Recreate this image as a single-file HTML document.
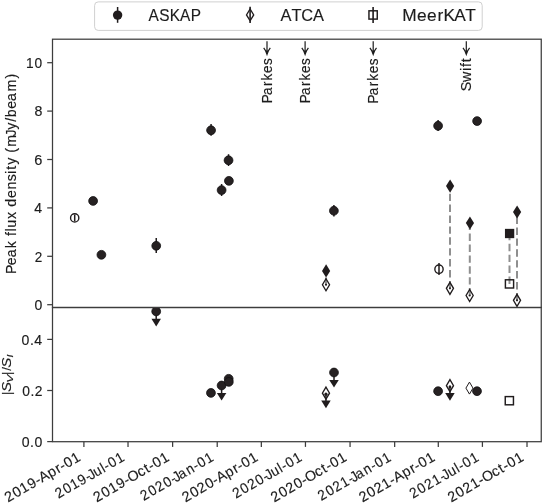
<!DOCTYPE html>
<html><head><meta charset="utf-8"><style>
html,body{margin:0;padding:0;background:#fff;}
svg{display:block;}
text{font-family:"Liberation Sans", sans-serif;fill:#1c1c1c;stroke:#1c1c1c;stroke-width:0.15px;}
svg{will-change:transform;}
</style></head><body>
<svg width="543" height="504" viewBox="0 0 543 504">
<defs><clipPath id="clipL"><rect x="52.5" y="307.5" width="488.75" height="134.2"/></clipPath></defs>
<rect width="543" height="504" fill="#fff"/>
<line x1="47.2" y1="304.7" x2="52.5" y2="304.7" stroke="#3d3d3d" stroke-width="1.25"/>
<text transform="translate(41.70,309.95) scale(0.9948,1)" x="-7.30" y="0" font-size="14.12">0</text>
<line x1="47.2" y1="256.3" x2="52.5" y2="256.3" stroke="#3d3d3d" stroke-width="1.25"/>
<text transform="translate(41.70,261.55) scale(0.9589,1)" x="-7.15" y="0" font-size="14.12">2</text>
<line x1="47.2" y1="207.9" x2="52.5" y2="207.9" stroke="#3d3d3d" stroke-width="1.25"/>
<text transform="translate(41.70,213.15) scale(0.9949,1)" x="-7.44" y="0" font-size="14.12">4</text>
<line x1="47.2" y1="159.5" x2="52.5" y2="159.5" stroke="#3d3d3d" stroke-width="1.25"/>
<text transform="translate(41.70,164.75) scale(1.0296,1)" x="-7.23" y="0" font-size="14.12">6</text>
<line x1="47.2" y1="111.1" x2="52.5" y2="111.1" stroke="#3d3d3d" stroke-width="1.25"/>
<text transform="translate(41.70,116.35) scale(1.0056,1)" x="-7.24" y="0" font-size="14.12">8</text>
<line x1="47.2" y1="62.7" x2="52.5" y2="62.7" stroke="#3d3d3d" stroke-width="1.25"/>
<text transform="translate(41.70,67.95) scale(0.9736,1)" x="-16.16 -7.38" y="0" font-size="14.12">10</text>
<line x1="47.2" y1="441.6" x2="52.5" y2="441.6" stroke="#3d3d3d" stroke-width="1.25"/>
<text transform="translate(41.70,446.85) scale(0.9972,1)" x="-20.05 -11.71 -7.30" y="0" font-size="14.12">0.0</text>
<line x1="47.2" y1="390.5" x2="52.5" y2="390.5" stroke="#3d3d3d" stroke-width="1.25"/>
<text transform="translate(41.70,395.75) scale(0.9814,1)" x="-19.85 -11.41 -7.07" y="0" font-size="14.12">0.2</text>
<line x1="47.2" y1="339.4" x2="52.5" y2="339.4" stroke="#3d3d3d" stroke-width="1.25"/>
<text transform="translate(41.70,344.65) scale(0.9972,1)" x="-20.19 -11.85 -7.43" y="0" font-size="14.12">0.4</text>
<line x1="83.90" y1="441.7" x2="83.90" y2="446.9" stroke="#3d3d3d" stroke-width="1.25"/>
<text transform="translate(80.65,460.50) rotate(-30) scale(0.9970,1)" x="-84.11 -75.25 -66.65 -57.94 -49.48 -44.76 -34.88 -25.96 -20.96 -15.77 -7.17" y="0" font-size="14.41">2019-Apr-01</text>
<line x1="128.02" y1="441.7" x2="128.02" y2="446.9" stroke="#3d3d3d" stroke-width="1.25"/>
<text transform="translate(124.77,460.50) rotate(-30) scale(0.9477,1)" x="-80.76 -71.44 -62.38 -53.23 -44.42 -41.57 -34.69 -25.71 -21.92 -16.38 -7.32" y="0" font-size="14.41">2019-Jul-01</text>
<line x1="172.62" y1="441.7" x2="172.62" y2="446.9" stroke="#3d3d3d" stroke-width="1.25"/>
<text transform="translate(169.37,460.50) rotate(-30) scale(0.9897,1)" x="-84.69 -75.76 -67.09 -58.32 -49.81 -45.13 -34.11 -25.91 -21.10 -15.86 -7.19" y="0" font-size="14.41">2019-Oct-01</text>
<line x1="217.22" y1="441.7" x2="217.22" y2="446.9" stroke="#3d3d3d" stroke-width="1.25"/>
<text transform="translate(213.97,460.50) rotate(-30) scale(0.9341,1)" x="-86.75 -77.30 -68.23 -58.77 -49.90 -47.00 -40.66 -31.02 -22.21 -16.56 -7.36" y="0" font-size="14.41">2020-Jan-01</text>
<line x1="261.34" y1="441.7" x2="261.34" y2="446.9" stroke="#3d3d3d" stroke-width="1.25"/>
<text transform="translate(258.09,460.50) rotate(-30) scale(0.9943,1)" x="-84.32 -75.44 -66.92 -58.04 -49.61 -44.87 -34.96 -26.03 -21.01 -15.80 -7.17" y="0" font-size="14.41">2020-Apr-01</text>
<line x1="305.45" y1="441.7" x2="305.45" y2="446.9" stroke="#3d3d3d" stroke-width="1.25"/>
<text transform="translate(302.20,460.50) rotate(-30) scale(0.9453,1)" x="-80.96 -71.62 -62.65 -53.31 -44.53 -41.67 -34.77 -25.77 -21.97 -16.41 -7.33" y="0" font-size="14.41">2020-Jul-01</text>
<line x1="350.06" y1="441.7" x2="350.06" y2="446.9" stroke="#3d3d3d" stroke-width="1.25"/>
<text transform="translate(346.81,460.50) rotate(-30) scale(0.9871,1)" x="-84.90 -75.95 -67.37 -58.42 -49.94 -45.23 -34.19 -25.97 -21.15 -15.89 -7.19" y="0" font-size="14.41">2020-Oct-01</text>
<line x1="394.66" y1="441.7" x2="394.66" y2="446.9" stroke="#3d3d3d" stroke-width="1.25"/>
<text transform="translate(391.41,460.50) rotate(-30) scale(0.9293,1)" x="-87.18 -77.68 -68.56 -59.12 -50.15 -47.23 -40.85 -31.16 -22.31 -16.63 -7.38" y="0" font-size="14.41">2021-Jan-01</text>
<line x1="438.29" y1="441.7" x2="438.29" y2="446.9" stroke="#3d3d3d" stroke-width="1.25"/>
<text transform="translate(435.04,460.50) rotate(-30) scale(0.9901,1)" x="-84.66 -75.74 -67.19 -58.34 -49.81 -45.04 -35.09 -26.13 -21.09 -15.85 -7.19" y="0" font-size="14.41">2021-Apr-01</text>
<line x1="482.41" y1="441.7" x2="482.41" y2="446.9" stroke="#3d3d3d" stroke-width="1.25"/>
<text transform="translate(479.16,460.50) rotate(-30) scale(0.9401,1)" x="-81.39 -71.99 -62.98 -53.65 -44.76 -41.88 -34.94 -25.90 -22.08 -16.48 -7.34" y="0" font-size="14.41">2021-Jul-01</text>
<line x1="527.01" y1="441.7" x2="527.01" y2="446.9" stroke="#3d3d3d" stroke-width="1.25"/>
<text transform="translate(523.76,460.50) rotate(-30) scale(0.9828,1)" x="-85.25 -76.26 -67.64 -58.73 -50.15 -45.40 -34.32 -26.07 -21.23 -15.94 -7.21" y="0" font-size="14.41">2021-Oct-01</text>
<text transform="translate(16.20,272.30) rotate(-90) scale(0.9833,1)" x="-1.76 7.26 15.20 24.48 31.98 36.98 41.56 45.43 54.31 62.04 66.73 75.49 84.13 92.58 100.02 104.21 109.44 117.14 121.47 127.71 138.23 144.97 153.00 157.80 166.38 174.33 183.87 197.23" y="0" font-size="14.41">Peak flux density (mJy/beam)</text>
<g transform="translate(11.0,393.2) rotate(-90)">
<text transform="translate(0.0,0) scale(1,1)" text-anchor="middle" font-size="13.2" font-style="normal">|</text>
<text transform="translate(6.2,0) scale(1.12,1)" text-anchor="middle" font-size="13.6" font-style="italic">S</text>
<text transform="translate(14.4,1.9) scale(1.25,1)" text-anchor="middle" font-size="9.6" font-style="italic">V</text>
<text transform="translate(20.0,0) scale(1,1)" text-anchor="middle" font-size="13.2" font-style="normal">|</text>
<text transform="translate(24.4,0) scale(1,1)" text-anchor="middle" font-size="13.2" font-style="normal">/</text>
<text transform="translate(30.6,0) scale(1.12,1)" text-anchor="middle" font-size="13.6" font-style="italic">S</text>
<text transform="translate(37.1,1.9) scale(1.1,1)" text-anchor="middle" font-size="9.6" font-style="italic">I</text>
</g>
<line x1="267.0" y1="41.3" x2="267.0" y2="53.2" stroke="#1c1c1c" stroke-width="1.2"/>
<path d="M263.7,47.8 Q265.7,50.2 267.0,54.2 Q268.3,50.2 270.3,47.8" fill="none" stroke="#1c1c1c" stroke-width="1.25" stroke-linejoin="miter"/>
<path d="M265.6,50.6 L268.4,50.6 L267.0,54.2 Z" fill="#1c1c1c"/>
<text transform="translate(271.60,101.70) rotate(-90) scale(0.9537,1)" x="-1.64 6.93 16.51 22.13 30.02 38.47" y="0" font-size="14.20">Parkes</text>
<line x1="305.1" y1="41.3" x2="305.1" y2="53.2" stroke="#1c1c1c" stroke-width="1.2"/>
<path d="M301.8,47.8 Q303.8,50.2 305.1,54.2 Q306.40000000000003,50.2 308.40000000000003,47.8" fill="none" stroke="#1c1c1c" stroke-width="1.25" stroke-linejoin="miter"/>
<path d="M303.70000000000005,50.6 L306.5,50.6 L305.1,54.2 Z" fill="#1c1c1c"/>
<text transform="translate(309.70,101.70) rotate(-90) scale(0.9537,1)" x="-1.64 6.93 16.51 22.13 30.02 38.47" y="0" font-size="14.20">Parkes</text>
<line x1="373.2" y1="41.3" x2="373.2" y2="53.2" stroke="#1c1c1c" stroke-width="1.2"/>
<path d="M369.9,47.8 Q371.9,50.2 373.2,54.2 Q374.5,50.2 376.5,47.8" fill="none" stroke="#1c1c1c" stroke-width="1.25" stroke-linejoin="miter"/>
<path d="M371.8,50.6 L374.59999999999997,50.6 L373.2,54.2 Z" fill="#1c1c1c"/>
<text transform="translate(377.80,101.90) rotate(-90) scale(0.9537,1)" x="-1.64 6.93 16.51 22.13 30.02 38.47" y="0" font-size="14.20">Parkes</text>
<line x1="466.3" y1="41.3" x2="466.3" y2="53.2" stroke="#1c1c1c" stroke-width="1.2"/>
<path d="M463.0,47.8 Q465.0,50.2 466.3,54.2 Q467.6,50.2 469.6,47.8" fill="none" stroke="#1c1c1c" stroke-width="1.25" stroke-linejoin="miter"/>
<path d="M464.90000000000003,50.6 L467.7,50.6 L466.3,54.2 Z" fill="#1c1c1c"/>
<text transform="translate(470.90,89.90) rotate(-90) scale(1.0012,1)" x="-1.30 7.95 18.85 22.83 27.61" y="0" font-size="14.20">Swift</text>
<line x1="450.0" y1="288.3" x2="450.0" y2="186.1" stroke="#8f8f8f" stroke-width="2" stroke-dasharray="7.4 3.5" stroke-linecap="butt"/>
<line x1="469.8" y1="295.5" x2="469.8" y2="223.0" stroke="#8f8f8f" stroke-width="2" stroke-dasharray="7.4 3.5" stroke-linecap="butt"/>
<line x1="517.0" y1="300.3" x2="517.0" y2="212.0" stroke="#8f8f8f" stroke-width="2" stroke-dasharray="7.4 3.5" stroke-linecap="butt"/>
<line x1="509.5" y1="283.9" x2="509.5" y2="233.5" stroke="#8f8f8f" stroke-width="2" stroke-dasharray="7.4 3.5" stroke-linecap="butt"/>
<line x1="326.05" y1="284.9" x2="326.05" y2="270.9" stroke="#8f8f8f" stroke-width="2" stroke-dasharray="7.4 3.5" stroke-linecap="butt"/>
<line x1="156.24" y1="238.0" x2="156.24" y2="252.9" stroke="#201c1d" stroke-width="1.5"/>
<circle cx="156.24" cy="245.8" r="4.40" fill="#262122" stroke="#121011" stroke-width="0.8"/>
<line x1="211.07" y1="123.9" x2="211.07" y2="135.8" stroke="#201c1d" stroke-width="1.5"/>
<circle cx="211.07" cy="130.27" r="4.40" fill="#262122" stroke="#121011" stroke-width="0.8"/>
<line x1="228.54" y1="154.2" x2="228.54" y2="166.0" stroke="#201c1d" stroke-width="1.5"/>
<circle cx="228.54" cy="160.27" r="4.40" fill="#262122" stroke="#121011" stroke-width="0.8"/>
<circle cx="228.9" cy="180.86" r="4.40" fill="#262122" stroke="#121011" stroke-width="0.8"/>
<line x1="221.6" y1="184.0" x2="221.6" y2="196.0" stroke="#201c1d" stroke-width="1.5"/>
<circle cx="221.6" cy="190.1" r="4.40" fill="#262122" stroke="#121011" stroke-width="0.8"/>
<line x1="333.9" y1="204.9" x2="333.9" y2="216.4" stroke="#201c1d" stroke-width="1.5"/>
<circle cx="333.9" cy="210.75" r="4.40" fill="#262122" stroke="#121011" stroke-width="0.8"/>
<line x1="438.1" y1="120.1" x2="438.1" y2="131.1" stroke="#201c1d" stroke-width="1.5"/>
<circle cx="438.1" cy="125.77" r="4.40" fill="#262122" stroke="#121011" stroke-width="0.8"/>
<circle cx="477.1" cy="121.07" r="4.40" fill="#262122" stroke="#121011" stroke-width="0.8"/>
<circle cx="93.1" cy="200.95" r="4.40" fill="#262122" stroke="#121011" stroke-width="0.8"/>
<circle cx="101.4" cy="254.8" r="4.40" fill="#262122" stroke="#121011" stroke-width="0.8"/>
<circle cx="74.7" cy="217.9" r="4.15" fill="none" stroke="#201c1d" stroke-width="1.4"/>
<line x1="74.7" y1="214.6" x2="74.7" y2="221.0" stroke="#201c1d" stroke-width="1.5"/>
<circle cx="439.0" cy="269.2" r="4.15" fill="none" stroke="#201c1d" stroke-width="1.4"/>
<line x1="439.0" y1="263.0" x2="439.0" y2="274.9" stroke="#201c1d" stroke-width="1.5"/>
<path d="M326.1,264.29999999999995 L330.20000000000005,270.9 L326.1,277.5 L322.0,270.9 Z" fill="#201c1d"/>
<path d="M326.0,278.75 L329.55,284.75 L326.0,290.75 L322.45,284.75 Z" fill="none" stroke="#201c1d" stroke-width="1.35" stroke-miterlimit="10"/>
<circle cx="326.0" cy="284.75" r="1.1" fill="#201c1d"/>
<path d="M450.1,179.5 L454.20000000000005,186.1 L450.1,192.7 L446.0,186.1 Z" fill="#201c1d"/>
<path d="M449.94,282.3 L453.49,288.3 L449.94,294.3 L446.39,288.3 Z" fill="none" stroke="#201c1d" stroke-width="1.35" stroke-miterlimit="10"/>
<circle cx="449.94" cy="288.3" r="1.1" fill="#201c1d"/>
<path d="M469.94,216.4 L474.04,223.0 L469.94,229.6 L465.84,223.0 Z" fill="#201c1d"/>
<path d="M469.64,289.5 L473.19,295.5 L469.64,301.5 L466.09,295.5 Z" fill="none" stroke="#201c1d" stroke-width="1.35" stroke-miterlimit="10"/>
<circle cx="469.64" cy="295.5" r="1.1" fill="#201c1d"/>
<path d="M517.1,205.4 L521.2,212.0 L517.1,218.6 L513.0,212.0 Z" fill="#201c1d"/>
<path d="M517.0,294.3 L520.55,300.3 L517.0,306.3 L513.45,300.3 Z" fill="none" stroke="#201c1d" stroke-width="1.35" stroke-miterlimit="10"/>
<circle cx="517.0" cy="300.3" r="1.1" fill="#201c1d"/>
<rect x="504.95000000000005" y="228.85" width="9.3" height="9.3" fill="#201c1d"/>
<rect x="505.4" y="279.79999999999995" width="8.2" height="8.2" fill="none" stroke="#201c1d" stroke-width="1.45"/>
<g clip-path="url(#clipL)">
<line x1="156.2" y1="311.4" x2="156.2" y2="319.4" stroke="#201c1d" stroke-width="1.5"/>
<path d="M151.45,318.79999999999995 L160.95,318.79999999999995 L156.2,326.4 Z" fill="#201c1d"/>
<circle cx="156.2" cy="311.4" r="4.40" fill="#262122" stroke="#121011" stroke-width="0.8"/>
</g>
<circle cx="210.95" cy="392.9" r="4.40" fill="#262122" stroke="#121011" stroke-width="0.8"/>
<line x1="221.6" y1="385.5" x2="221.6" y2="393.5" stroke="#201c1d" stroke-width="1.5"/>
<path d="M216.85,392.9 L226.35,392.9 L221.6,400.5 Z" fill="#201c1d"/>
<circle cx="221.6" cy="385.5" r="4.40" fill="#262122" stroke="#121011" stroke-width="0.8"/>
<circle cx="228.7" cy="378.8" r="4.40" fill="#262122" stroke="#121011" stroke-width="0.8"/>
<circle cx="228.8" cy="381.9" r="4.40" fill="#262122" stroke="#121011" stroke-width="0.8"/>
<line x1="334.0" y1="372.5" x2="334.0" y2="380.5" stroke="#201c1d" stroke-width="1.5"/>
<path d="M329.25,379.9 L338.75,379.9 L334.0,387.5 Z" fill="#201c1d"/>
<circle cx="334.0" cy="372.5" r="4.40" fill="#262122" stroke="#121011" stroke-width="0.8"/>
<path d="M325.96,387.2 L329.51,393.2 L325.96,399.2 L322.40999999999997,393.2 Z" fill="none" stroke="#201c1d" stroke-width="1.35" stroke-miterlimit="10"/>
<line x1="325.96" y1="393.2" x2="325.96" y2="401.2" stroke="#201c1d" stroke-width="1.5"/>
<path d="M321.21,400.59999999999997 L330.71,400.59999999999997 L325.96,408.2 Z" fill="#201c1d"/>
<circle cx="325.96" cy="394.2" r="1.6" fill="#201c1d"/>
<path d="M449.95,379.7 L453.5,385.7 L449.95,391.7 L446.4,385.7 Z" fill="none" stroke="#201c1d" stroke-width="1.35" stroke-miterlimit="10"/>
<line x1="449.95" y1="385.7" x2="449.95" y2="393.7" stroke="#201c1d" stroke-width="1.5"/>
<path d="M445.2,393.09999999999997 L454.7,393.09999999999997 L449.95,400.7 Z" fill="#201c1d"/>
<circle cx="449.95" cy="386.9" r="1.4" fill="#201c1d"/>
<path d="M469.46,382.1 L473.01,388.1 L469.46,394.1 L465.90999999999997,388.1 Z" fill="none" stroke="#201c1d" stroke-width="1.0" stroke-miterlimit="10"/>
<circle cx="438.1" cy="391.2" r="4.40" fill="#262122" stroke="#121011" stroke-width="0.8"/>
<circle cx="477.0" cy="391.2" r="4.40" fill="#262122" stroke="#121011" stroke-width="0.8"/>
<rect x="505.25" y="396.59999999999997" width="8.2" height="8.2" fill="none" stroke="#201c1d" stroke-width="1.45"/>

<rect x="52.5" y="39.2" width="488.75" height="268.3" fill="none" stroke="#3d3d3d" stroke-width="1.25"/>
<rect x="52.5" y="307.5" width="488.75" height="134.2" fill="none" stroke="#3d3d3d" stroke-width="1.25"/>


<rect x="94.6" y="1.9" width="387.6" height="28.5" rx="3.6" ry="3.6" fill="#fff" stroke="#d0d0d0" stroke-width="1"/>
<line x1="117.6" y1="7.0" x2="117.6" y2="22.8" stroke="#201c1d" stroke-width="1.5"/>
<circle cx="117.6" cy="15.1" r="4.7" fill="#201c1d"/>
<text transform="translate(148.30,20.60) scale(0.9094,1)" x="0.22 11.92 23.63 34.96 46.60" y="0" font-size="16.95">ASKAP</text>
<path d="M250.1,9.0 L253.7,14.9 L250.1,20.8 L246.5,14.9 Z" fill="#fff" stroke="#201c1d" stroke-width="1.35"/>
<line x1="250.1" y1="6.8" x2="250.1" y2="22.9" stroke="#201c1d" stroke-width="1.6"/>
<text transform="translate(280.50,20.60) scale(0.9686,1)" x="-0.03 11.37 21.36 33.56" y="0" font-size="16.95">ATCA</text>
<rect x="368.95" y="10.8" width="8.3" height="8.3" fill="none" stroke="#201c1d" stroke-width="1.45"/>
<line x1="373.1" y1="7.0" x2="373.1" y2="22.9" stroke="#201c1d" stroke-width="1.6"/>
<text transform="translate(404.10,20.60) scale(1.0214,1)" x="-1.71 12.53 22.41 32.82 38.60 49.00 59.88" y="0" font-size="16.95">MeerKAT</text>

</svg>
</body></html>
